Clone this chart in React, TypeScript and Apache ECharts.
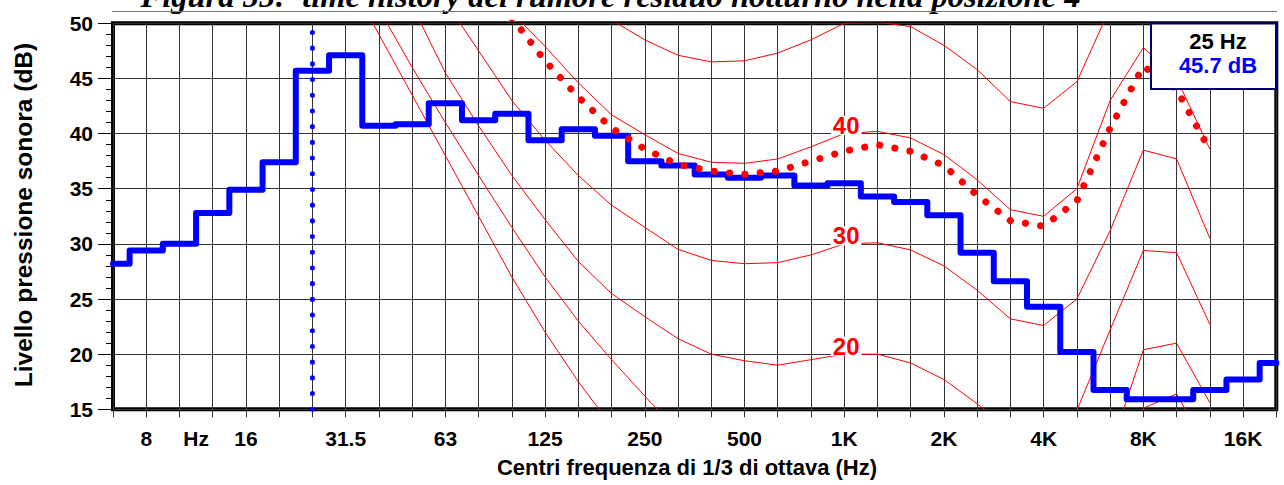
import React, { useEffect, useRef } from 'react';
import * as echarts from 'echarts';

// 1/3 octave band centres (index 0 .. 35)
const bands = ['6.3', '8', '10', '12.5', '16', '20', '25', '31.5', '40', '50', '63', '80', '100', '125', '160', '200', '250', '315', '400', '500', '630', '800', '1K', '1.25K', '1.6K', '2K', '2.5K', '3.15K', '4K', '5K', '6.3K', '8K', '10K', '12.5K', '16K', '20K'];
const labeledBands = ['8', '16', '31.5', '63', '125', '250', '500', '1K', '2K', '4K', '8K', '16K'];
const unitLabel = 'Hz';
const unitLabelPos = 2.5;

// measured spectrum (dB)
const levels = [28.2, 29.4, 30.0, 32.8, 34.9, 37.4, 45.7, 47.1, 40.7, 40.85, 42.75, 41.2, 41.8, 39.4, 40.4, 39.8, 37.5, 37.1, 36.3, 36.0, 36.2, 35.3, 35.5, 34.3, 33.8, 32.6, 29.2, 26.6, 24.3, 20.2, 16.75, 15.9, 15.9, 16.75, 17.7, 19.2];

// cursor
const cursorIndex = 6;

// isophonic curves (dB) per band, null = not drawn
const isoLow = [null, null, null, null, null, null, null, 54.5, 49.0, 43.5, 38.0, 32.5, 27.0, 22.0, 17.5, 13.5, null, null, null, null, null, null, null, null, null, null, null, null, null, null, 8.0, 15.1, 16.4, 11.0, null, null];
const iso10 = [null, null, null, null, null, null, null, null, 51.3, 46.0, 41.0, 36.2, 31.5, 27.0, 23.0, 19.5, 16.2, 13.0, null, null, null, null, null, null, null, null, null, null, null, null, 11.3, 20.4, 21.0, 15.6, null, null];
const iso20 = [null, null, null, null, null, null, null, null, null, 51.6, 45.5, 40.7, 36.2, 32.2, 28.4, 25.5, 23.4, 21.4, 20.0, 19.4, 19.0, 19.5, 20.0, 20.0, 19.2, 17.7, 15.5, 13.2, 12.6, 14.9, 22.2, 29.4, 29.2, 22.7, null, null];
const iso30 = [null, null, null, null, null, null, null, null, null, null, 52.0, 47.5, 43.0, 39.4, 36.2, 33.5, 31.5, 29.5, 28.5, 28.2, 28.3, 29.0, 30.0, 30.1, 29.45, 28.0, 25.8, 23.2, 22.6, 25.0, 31.2, 38.5, 37.7, 30.5, null, null];
const iso40 = [null, null, null, null, null, null, null, null, null, null, null, null, 51.0, 47.9, 44.6, 41.7, 39.9, 38.2, 37.4, 37.3, 37.7, 38.8, 40.0, 40.2, 39.6, 38.1, 35.8, 33.1, 32.5, 35.0, 43.0, 47.8, 45.0, 38.6, null, null];
const iso50 = [null, null, null, null, null, null, null, null, null, null, null, null, null, null, null, 50.3, 48.5, 47.1, 46.5, 46.6, 47.3, 48.5, 50.0, 50.1, 49.7, 48.0, 45.8, 42.9, 42.3, 44.7, 51.4, null, null, null, null, null];
// isophone of the measured loudness level (dotted)
const isoLoudness = [null, null, null, null, null, null, null, null, null, null, null, null, 50.5, 46.6, 43.3, 40.5, 38.6, 37.2, 36.6, 36.3, 36.6, 37.5, 38.4, 39.0, 38.4, 37.1, 34.4, 32.1, 31.6, 33.9, 40.5, 46.1, 44.0, 38.5, null, null];

const curveLabels = [20, 30, 40];
const curveLabelBand = 22;

const yTicks = { min: 15, max: 50, step: 5 };

const SANS = '"Liberation Sans", Arial, Helvetica, sans-serif';
const SERIF = '"Liberation Serif", "Times New Roman", serif';

export default function App() {
  const ref = useRef<HTMLDivElement>(null);

  useEffect(() => {
    const el = ref.current;
    if (!el) return;
    const chart = echarts.init(el, undefined, { renderer: 'svg' });
    const pairs = (arr: (number | null)[]) => arr.map((v, i) => [i, v === null ? NaN : v]);

    const isoSeries = [isoLow, iso10, iso20, iso30, iso40, iso50].map((arr) => ({
      type: 'line',
      data: pairs(arr),
      showSymbol: false,
      connectNulls: false,
      lineStyle: { color: '#ff0000', width: 1 },
      z: 2,
      silent: true,
    }));

    const option: any = {
      animation: false,
      backgroundColor: '#ffffff',
      grid: {
        left: 113,
        top: 23.3,
        right: 7.7,
        bottom: 75.7,
        show: true,
        borderColor: '#000',
        borderWidth: 4,
        backgroundColor: 'transparent',
        containLabel: false,
      },
      xAxis: [
        {
          type: 'value',
          min: 0,
          max: bands.length - 1,
          interval: 1,
          position: 'bottom',
          axisLine: { show: false, onZero: false },
          axisTick: { show: true, length: 8, lineStyle: { color: '#333', width: 1 } },
          splitLine: { show: true, lineStyle: { color: '#333', width: 1 } },
          axisLabel: {
            show: true,
            margin: 19,
            color: '#000',
            fontFamily: SANS,
            fontWeight: 'bold',
            fontSize: 21,
            showMinLabel: true,
            showMaxLabel: true,
            formatter: (v: number) => {
              const name = bands[Math.round(v)];
              return labeledBands.indexOf(name) >= 0 ? name : '';
            },
          },
        },
        {
          type: 'value',
          min: 0,
          max: bands.length - 1,
          interval: 0.5,
          position: 'bottom',
          axisLine: { show: false, onZero: false },
          axisTick: { show: false },
          splitLine: { show: false },
          axisLabel: {
            show: true,
            margin: 19,
            color: '#000',
            fontFamily: SANS,
            fontWeight: 'bold',
            fontSize: 21,
            formatter: (v: number) => (Math.abs(v - unitLabelPos) < 1e-6 ? unitLabel : ''),
          },
        },
      ],
      yAxis: {
        type: 'value',
        min: yTicks.min,
        max: yTicks.max,
        interval: yTicks.step,
        axisLine: { show: false },
        axisTick: { show: true, length: 15, lineStyle: { color: '#000', width: 1 } },
        minorTick: { show: true, splitNumber: 5, length: 7, lineStyle: { color: '#000', width: 1 } },
        splitLine: { show: true, lineStyle: { color: '#333', width: 1 } },
        axisLabel: {
          margin: 20,
          color: '#000',
          fontFamily: SANS,
          fontWeight: 'bold',
          fontSize: 21,
        },
      },
      series: [
        ...isoSeries,
        {
          type: 'line',
          step: 'middle',
          data: pairs(levels),
          showSymbol: false,
          lineStyle: { color: '#0000ff', width: 6, join: 'round', cap: 'round' },
          z: 3,
          silent: true,
        },
        {
          type: 'line',
          data: pairs(isoLoudness),
          showSymbol: false,
          connectNulls: false,
          lineStyle: { color: '#ff0000', width: 7, type: [0.1, 15.3], cap: 'round' },
          z: 4,
          silent: true,
        },
        {
          type: 'line',
          data: [[cursorIndex, yTicks.min], [cursorIndex, yTicks.max]],
          showSymbol: false,
          clip: false,
          lineStyle: { color: '#0000ff', width: 5, type: [0.1, 15.6], cap: 'round' },
          z: 5,
          silent: true,
        },
        {
          type: 'scatter',
          data: curveLabels.map((v) => [curveLabelBand, v]),
          symbol: 'circle',
          symbolSize: 1,
          itemStyle: { color: '#ffffff', opacity: 1 },
          z: 6,
          silent: true,
          label: {
            show: true,
            position: 'inside',
            offset: [2, -8],
            formatter: (p: any) => String(p.value[1]),
            color: '#ff0000',
            opacity: 1,
            textBorderWidth: 0,
            textBorderColor: 'transparent',
            textShadowBlur: 0,
            fontFamily: SANS,
            fontWeight: 'bold',
            fontSize: 24,
            lineHeight: 19,
            backgroundColor: '#ffffff',
            padding: [0, 2],
          },
        },
      ],
      graphic: [
        {
          type: 'text',
          x: 140.5,
          y: -4,
          z: 50,
          style: {
            text: 'Figura 55:  time history del rumore residuo notturno nella posizione 4',
            font: 'italic bold 32.5px ' + SERIF,
            fill: '#000',
            align: 'left',
            verticalAlign: 'middle',
          },
        },
        {
          type: 'line',
          z: 50,
          shape: { x1: 112, y1: 11.5, x2: 1277, y2: 11.5 },
          style: { stroke: '#777', lineWidth: 1 },
        },
        {
          type: 'text',
          x: 23,
          y: 215,
          rotation: Math.PI / 2,
          z: 50,
          style: {
            text: 'Livello pressione sonora (dB)',
            font: 'bold 24.5px ' + SANS,
            fill: '#000',
            align: 'center',
            verticalAlign: 'middle',
          },
        },
        {
          type: 'text',
          x: 687,
          y: 467,
          z: 50,
          style: {
            text: 'Centri frequenza di 1/3 di ottava (Hz)',
            font: 'bold 22px ' + SANS,
            fill: '#000',
            align: 'center',
            verticalAlign: 'middle',
          },
        },
        {
          type: 'group',
          z: 100,
          children: [
            {
              type: 'rect',
              z: 100,
              shape: { x: 1151, y: 23.5, width: 125, height: 65.5 },
              style: { fill: '#ffffff', stroke: '#00006e', lineWidth: 2 },
            },
            {
              type: 'text',
              z: 101,
              x: 1218,
              y: 41.5,
              style: {
                text: bands[cursorIndex] + ' Hz',
                font: 'bold 22px ' + SANS,
                fill: '#000',
                align: 'center',
                verticalAlign: 'middle',
              },
            },
            {
              type: 'text',
              z: 101,
              x: 1218,
              y: 65,
              style: {
                text: levels[cursorIndex].toFixed(1) + ' dB',
                font: 'bold 22px ' + SANS,
                fill: '#0000ff',
                align: 'center',
                verticalAlign: 'middle',
              },
            },
          ],
        },
      ],
    };

    chart.setOption(option);
    return () => {
      chart.dispose();
    };
  }, []);

  return (
    <div
      ref={ref}
      style={{ position: 'fixed', left: 0, top: 0, width: 1284, height: 485, background: '#fff' }}
    />
  );
}
